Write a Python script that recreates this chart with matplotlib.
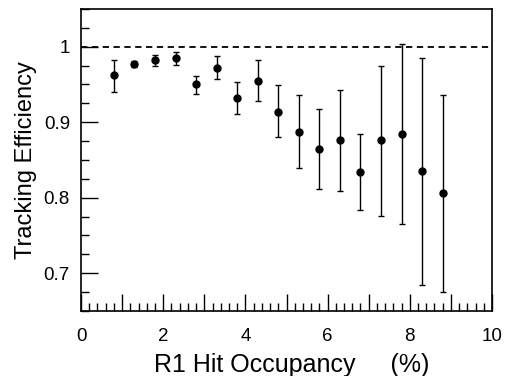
import matplotlib
matplotlib.use("Agg")
import matplotlib.pyplot as plt
from matplotlib.ticker import MultipleLocator

plt.rcParams['font.family'] = ['Liberation Sans', 'DejaVu Sans']

occupancy = [0.8, 1.3, 1.8, 2.3, 2.8, 3.3, 3.8, 4.3, 4.8, 5.3, 5.8, 6.3, 6.8, 7.3, 7.8, 8.3, 8.8]
efficiency = [0.962, 0.977, 0.982, 0.985, 0.950, 0.972, 0.932, 0.955, 0.913, 0.887,
              0.865, 0.876, 0.834, 0.876, 0.884, 0.835, 0.806]
err_up = [0.021, 0.004, 0.007, 0.008, 0.011, 0.016, 0.021, 0.028, 0.036, 0.049,
          0.052, 0.067, 0.050, 0.099, 0.119, 0.150, 0.130]
err_down = [0.022, 0.004, 0.007, 0.009, 0.012, 0.015, 0.021, 0.027, 0.033, 0.048,
            0.054, 0.067, 0.050, 0.100, 0.119, 0.151, 0.131]
x_tick_labels = ['0', '2', '4', '6', '8', '10']
y_tick_labels = ['0.7', '0.8', '0.9', '1']

fig = plt.figure(figsize=(5.14, 3.76), dpi=100)
ax = fig.add_axes([0.1576, 0.1729, 0.7996, 0.8032])

ax.errorbar(occupancy, efficiency, yerr=[err_down, err_up], fmt='o', color='black',
            markersize=5, elinewidth=1.0, capsize=2, capthick=1.0)
ax.axhline(1.0, color='black', linestyle=(0, (3.5, 2.5)), linewidth=1.3)

ax.set_xlim(0, 10)
ax.set_ylim(0.65, 1.05)

# labelled majors every 2, unlabelled long ticks at odd integers, short ticks every 0.2
ax.set_xticks(range(11))
ax.set_xticklabels([x_tick_labels[i // 2] if i % 2 == 0 else '' for i in range(11)])
ax.xaxis.set_minor_locator(MultipleLocator(0.2))

ax.set_yticks([0.7, 0.8, 0.9, 1.0])
ax.set_yticklabels(y_tick_labels)
ax.yaxis.set_minor_locator(MultipleLocator(0.025))

ax.tick_params(axis='both', which='major', direction='in', labelsize=13.5,
               top=False, right=False, width=1.0)
ax.tick_params(axis='x', which='major', length=12, pad=12)
ax.tick_params(axis='x', which='minor', direction='in', length=6, top=False, width=1.0)
ax.tick_params(axis='y', which='major', length=12, pad=8)
ax.tick_params(axis='y', which='minor', direction='in', length=6, right=False, width=1.0)

for s in ax.spines.values():
    s.set_linewidth(1.2)

ax.set_xlabel('R1 Hit Occupancy     (%)', fontsize=18, va='top')
ax.xaxis.set_label_coords(0.513, -0.138, transform=ax.transAxes)
ax.set_ylabel('Tracking Efficiency', fontsize=17, labelpad=5)

fig.savefig('out.png', dpi=100)
